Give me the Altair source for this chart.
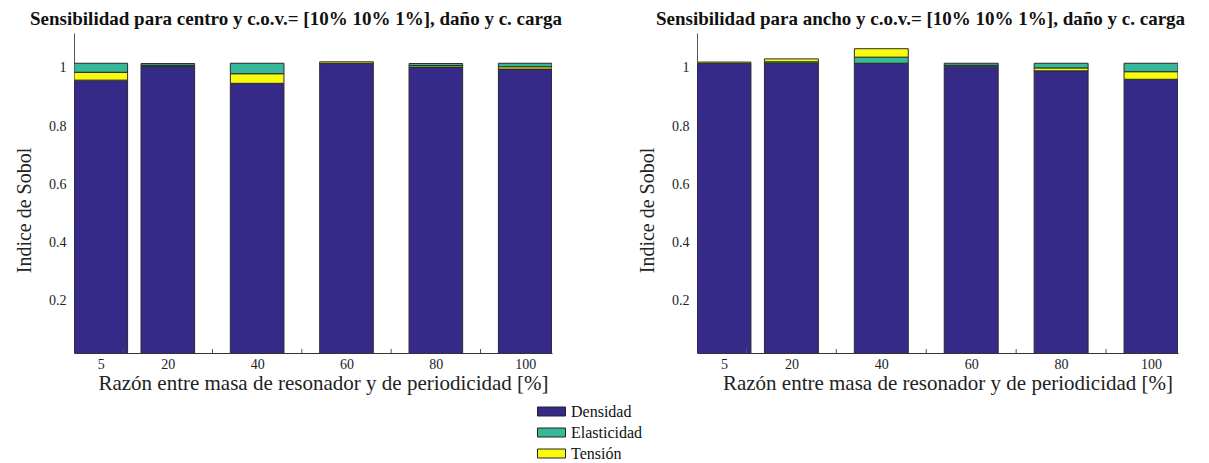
import altair as alt
import pandas as pd

# --- data ---
razon = [5, 20, 40, 60, 80, 100]
componentes = ["Densidad", "Elasticidad", "Tensión"]
colores = ["#352a87", "#38b89b", "#f9fb0e"]

# Panel izquierdo: centro
centro_densidad = [0.958, 1.005, 0.947, 1.015, 1.003, 0.996]
centro_elasticidad = [0.031, 0.006, 0.036, 0.001, 0.007, 0.012]
centro_tension = [0.027, 0.004, 0.033, 0.005, 0.005, 0.008]
# stacking order per bar (bottom -> top)
centro_orden = ["DTE", "DTE", "DTE", "DET", "DTE", "DTE"]

# Panel derecho: ancho
ancho_densidad = [1.015, 1.016, 1.016, 1.006, 0.990, 0.961]
ancho_elasticidad = [0.001, 0.005, 0.021, 0.007, 0.016, 0.029]
ancho_tension = [0.004, 0.010, 0.029, 0.003, 0.010, 0.026]
ancho_orden = ["DET", "DET", "DET", "DTE", "DTE", "DTE"]

ticks_menores = [10, 30, 50, 70, 90]
ticks_x = [5, 20, 40, 60, 80, 100]
ticks_y = [0.2, 0.4, 0.6, 0.8, 1]

titulo_izq = "Sensibilidad para centro y c.o.v.= [10% 10% 1%], daño y c. carga"
titulo_der = "Sensibilidad para ancho y c.o.v.= [10% 10% 1%], daño y c. carga"

FONT = "Liberation Serif"
H = 320


def tabla(dens, elas, tens, orden):
    filas = []
    letra = {"D": "Densidad", "E": "Elasticidad", "T": "Tensión"}
    for i, x in enumerate(razon):
        vals = {"Densidad": dens[i], "Elasticidad": elas[i], "Tensión": tens[i]}
        for k, ch in enumerate(orden[i]):
            comp = letra[ch]
            filas.append({"razon": x, "componente": comp, "valor": vals[comp], "orden": k})
    return pd.DataFrame(filas)


def panel(df, titulo, W):
    xscale = alt.Scale(domain=[-1, 106], nice=False, zero=False, padding=0)
    yscale = alt.Scale(domain=[0.02, 1.12], nice=False, zero=False, padding=0)
    barras = alt.Chart(df).mark_bar(
        size=W * 12 / 107, stroke="#2a2a2a", strokeWidth=1, clip=True
    ).encode(
        x=alt.X("razon:Q", scale=xscale,
                axis=alt.Axis(values=ticks_x, ticks=False, grid=False,
                              domainColor="#333", labelFont=FONT, labelFontSize=14,
                              labelColor="#222", labelPadding=4,
                              title="Razón entre masa de resonador y de periodicidad [%]",
                              titleFont=FONT, titleFontSize=21, titleFontWeight="normal",
                              titleColor="#222", titlePadding=1, titleX=W / 2 + 10)),
        y=alt.Y("sum(valor):Q", stack="zero", scale=yscale,
                axis=alt.Axis(values=ticks_y, format="~g", ticks=False, grid=False,
                              domainColor="#555", labelFont=FONT, labelFontSize=14,
                              labelColor="#222", labelPadding=8,
                              title="Indice de Sobol", titleFont=FONT, titleFontSize=20,
                              titleFontWeight="normal", titleColor="#222",
                              titlePadding=14, titleY=H / 2 + 17)),
        color=alt.Color("componente:N",
                        scale=alt.Scale(domain=componentes, range=colores),
                        legend=alt.Legend(
                            title=None, orient="none", legendX=467, legendY=368,
                            direction="vertical", labelFont=FONT, labelFontSize=16,
                            labelColor="#111",
                            symbolType="M-1.4,-0.45L1.4,-0.45L1.4,0.45L-1.4,0.45Z",
                            symbolSize=400, symbolStrokeColor="#222",
                            symbolStrokeWidth=1, symbolOpacity=1, rowPadding=2,
                            padding=0, labelOffset=9)),
        order=alt.Order("orden:Q", sort="ascending"),
    )
    menores = alt.Chart(pd.DataFrame({"razon": ticks_menores})).mark_rule(
        color="#555", strokeWidth=1
    ).encode(
        x=alt.X("razon:Q", scale=xscale),
        y=alt.value(H),
        y2=alt.value(H - 4),
    )
    return alt.layer(barras, menores).properties(
        width=W, height=H,
        title=alt.TitleParams(titulo, font=FONT, fontSize=19, fontWeight="bold",
                              color="#111", anchor="middle", dx=-17, offset=4),
    )


izq = panel(tabla(centro_densidad, centro_elasticidad, centro_tension, centro_orden), titulo_izq, 478)
der = panel(tabla(ancho_densidad, ancho_elasticidad, ancho_tension, ancho_orden), titulo_der, 481)

chart = alt.hconcat(izq, der, spacing=145, bounds="flush").resolve_scale(
    color="shared"
).configure(
    font=FONT,
    padding={"left": 6, "top": 2, "right": 5, "bottom": 0},
).configure_view(
    stroke=None
).configure_axis(
    labelFont=FONT, titleFont=FONT
).configure_legend(
    labelFont=FONT
).configure_title(
    font=FONT
)

chart.save("out.html", embed_options={"renderer": "svg", "actions": False})
